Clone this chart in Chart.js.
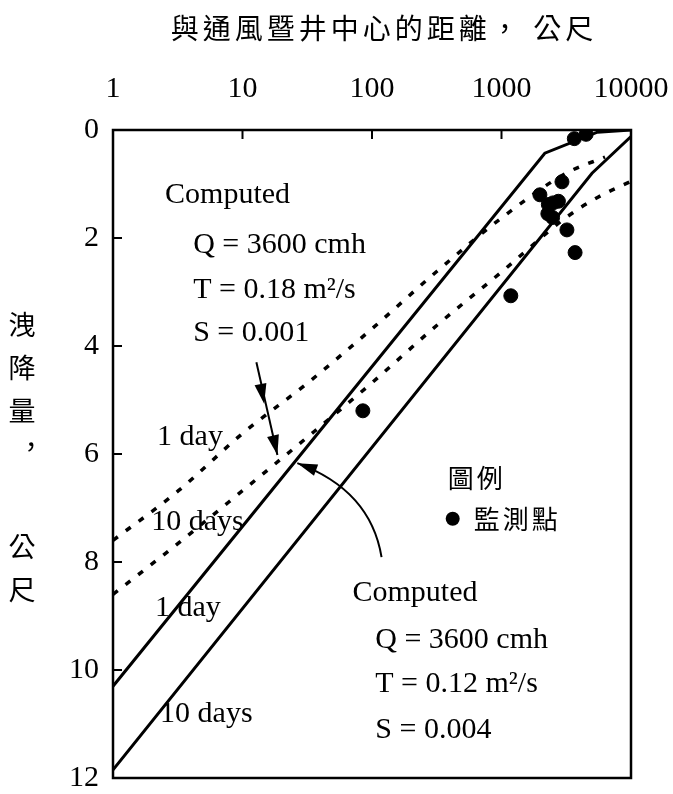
<!DOCTYPE html>
<html>
<head>
<meta charset="utf-8">
<script src="https://cdn.jsdelivr.net/npm/chart.js@4.4.1/dist/chart.umd.min.js"></script>
<style>
  html, body { margin: 0; padding: 0; background: #fff; overflow: hidden; }
  canvas { display: block; }
</style>
</head>
<body>
<canvas id="chart" width="673" height="794"></canvas>
<script>
// distance from shaft centre (m) vs drawdown (m)
const xTicks = [1, 10, 100, 1000, 10000];
const yTicks = [0, 2, 4, 6, 8, 10, 12];

// computed, T = 0.12 m2/s, S = 0.004 (solid)
const solid1Day = [[1, 10.3], [2160, 0.43], [5500, 0.04], [10000, 0]];
const solid10Days = [[1, 11.85], [5000, 0.8], [10000, 0.12]];

// computed, T = 0.18 m2/s, S = 0.001 (dotted)
const dotted1Day = [[1, 7.6], [3.2, 6.68], [10, 5.62], [32, 4.68], [100, 3.68],
  [316, 2.62], [1000, 1.63], [3160, 0.8], [6300, 0.5]];
const dotted10Days = [[1, 8.6], [3.2, 7.65], [10, 6.68], [32, 5.68], [100, 4.68],
  [316, 3.62], [1000, 2.63], [3160, 1.62], [5600, 1.24], [10000, 0.95]];

// 監測點 (monitoring points)
const observed = [[85, 5.2], [1180, 3.07], [1980, 1.2], [2300, 1.38], [2500, 1.35],
  [2750, 1.32], [2280, 1.55], [2480, 1.62], [2930, 0.96], [3200, 1.85],
  [3700, 2.27], [3650, 0.16], [4500, 0.08]];

const SERIF = '"Liberation Serif", "DejaVu Serif", serif';
const CJK = '"Noto Sans CJK TC", "Noto Sans CJK SC", sans-serif';

const xTitle = '與通風暨井中心的距離， 公尺';
const yTitle = [['洩', 325], ['降', 368], ['量', 411], ['，', 453], ['公', 547], ['尺', 590]];

// text placed in data coordinates [text, x, y]
const notes = [
  ['Computed', 2.525, 1.2],
  ['Q = 3600 cmh', 4.16, 2.13],
  ['T = 0.18 m²/s', 4.16, 2.96],
  ['S = 0.001', 4.16, 3.76],
  ['1 day', 2.19, 5.69],
  ['10 days', 1.97, 7.26],
  ['1 day', 2.11, 8.85],
  ['10 days', 2.31, 10.81],
  ['Computed', 70.7, 8.57],
  ['Q = 3600 cmh', 106, 9.44],
  ['T = 0.12 m²/s', 106, 10.26],
  ['S = 0.004', 106, 11.11],
];

const toXY = (arr) => arr.map(([x, y]) => ({ x, y }));

const lineSet = (data, dashed) => ({
  data: toXY(data),
  showLine: true,
  borderColor: '#000',
  borderWidth: dashed ? 3.5 : 3,
  borderDash: dashed ? [6, 10] : [],
  pointRadius: 0,
  tension: dashed ? 0.4 : 0,
  cubicInterpolationMode: dashed ? 'monotone' : 'default',
});

function arrowHead(ctx, tx, ty, fx, fy) {
  const ang = Math.atan2(ty - fy, tx - fx);
  const len = 20, half = 6;
  ctx.beginPath();
  ctx.moveTo(tx, ty);
  ctx.lineTo(tx - len * Math.cos(ang) + half * Math.sin(ang), ty - len * Math.sin(ang) - half * Math.cos(ang));
  ctx.lineTo(tx - len * Math.cos(ang) - half * Math.sin(ang), ty - len * Math.sin(ang) + half * Math.cos(ang));
  ctx.closePath();
  ctx.fill();
}

const decor = {
  id: 'decor',
  afterDraw(chart) {
    const { ctx, chartArea: a, scales: { x, y } } = chart;
    const X = (v) => x.getPixelForValue(v);
    const Y = (v) => y.getPixelForValue(v);
    ctx.save();
    ctx.strokeStyle = '#000';
    ctx.fillStyle = '#000';

    // frame and inner ticks
    ctx.lineWidth = 2.5;
    ctx.strokeRect(a.left, a.top, a.right - a.left, a.bottom - a.top);
    ctx.lineWidth = 2;
    xTicks.slice(1, -1).forEach((v) => {
      ctx.beginPath(); ctx.moveTo(X(v), a.top); ctx.lineTo(X(v), a.top + 9); ctx.stroke();
    });
    yTicks.slice(1, -1).forEach((v) => {
      ctx.beginPath(); ctx.moveTo(a.left, Y(v)); ctx.lineTo(a.left + 9, Y(v)); ctx.stroke();
    });

    // annotations
    ctx.font = `30px ${SERIF}`;
    ctx.textAlign = 'left';
    ctx.textBaseline = 'middle';
    notes.forEach(([t, vx, vy]) => ctx.fillText(t, X(vx), Y(vy)));

    // arrow to the dotted curves
    ctx.lineWidth = 2;
    ctx.beginPath();
    ctx.moveTo(X(12.8), Y(4.3));
    ctx.lineTo(X(18.6), Y(6.02));
    ctx.stroke();
    arrowHead(ctx, X(14.7), Y(5.07), X(12.8), Y(4.3));
    arrowHead(ctx, X(18.6), Y(6.02), X(12.8), Y(4.3));

    // curved arrow to the solid curves
    ctx.beginPath();
    ctx.moveTo(X(118.5), Y(7.91));
    ctx.quadraticCurveTo(X(97.3), Y(6.67), X(26.5), Y(6.17));
    ctx.stroke();
    arrowHead(ctx, X(26.5), Y(6.17), X(97.3), Y(6.67));

    // legend
    ctx.font = `26px ${CJK}`;
    ctx.letterSpacing = '3px';
    ctx.fillText('圖例', X(384), Y(6.44));
    ctx.beginPath();
    ctx.arc(X(420), Y(7.2), 7, 0, Math.PI * 2);
    ctx.fill();
    ctx.fillText('監測點', X(610), Y(7.2));

    // axis titles
    ctx.font = `28px ${CJK}`;
    ctx.letterSpacing = '4px';
    ctx.textAlign = 'center';
    ctx.fillText(xTitle, 384, 28);
    ctx.letterSpacing = '0px';
    ctx.font = `27px ${CJK}`;
    yTitle.forEach(([c, py]) => {
      if (c === '，') ctx.fillText(c, 31, py - 6);
      else ctx.fillText(c, 22, py);
    });
    ctx.restore();
  },
};

new Chart(document.getElementById('chart'), {
  type: 'scatter',
  data: {
    datasets: [
      lineSet(solid1Day, false),
      lineSet(solid10Days, false),
      lineSet(dotted1Day, true),
      lineSet(dotted10Days, true),
      {
        data: toXY(observed),
        pointRadius: 7,
        pointBackgroundColor: '#000',
        pointBorderColor: '#000',
        showLine: false,
      },
    ],
  },
  options: {
    responsive: false,
    animation: false,
    layout: { padding: { left: 0, top: 0, right: 42, bottom: 16 } },
    plugins: { legend: { display: false }, tooltip: { enabled: false } },
    scales: {
      x: {
        type: 'logarithmic',
        position: 'top',
        min: 1,
        max: 10000,
        afterBuildTicks: (s) => { s.ticks = xTicks.map((v) => ({ value: v })); },
        afterFit: (s) => { s.height = 130; s.paddingLeft = 0; s.paddingRight = 0; },
        ticks: {
          callback: (v) => String(v),
          font: { family: SERIF, size: 30 },
          color: '#000',
          padding: 15,
          autoSkip: false,
          maxRotation: 0,
        },
        grid: { display: false },
        border: { display: false },
      },
      y: {
        type: 'linear',
        reverse: true,
        min: 0,
        max: 12,
        afterBuildTicks: (s) => { s.ticks = yTicks.map((v) => ({ value: v })); },
        afterFit: (s) => { s.width = 113; s.paddingTop = 0; s.paddingBottom = 0; },
        ticks: {
          font: { family: SERIF, size: 30 },
          color: '#000',
          padding: 6,
        },
        grid: { display: false },
        border: { display: false },
      },
    },
  },
  plugins: [decor],
});
</script>
</body>
</html>
